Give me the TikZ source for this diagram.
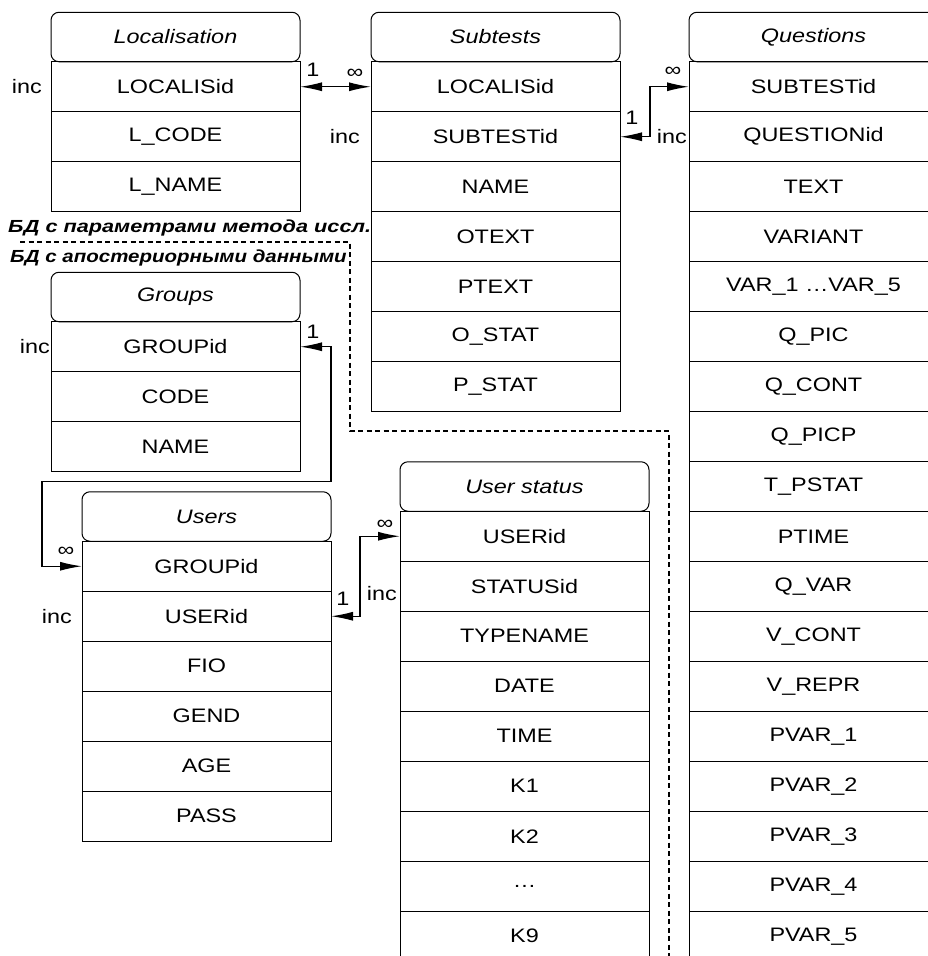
\documentclass[tikz,border=0pt]{standalone}
\usepackage{fontspec}
\setmainfont{Liberation Sans}[FakeStretch=1.2]
\newfontfamily\dbfont{Liberation Sans}[FakeStretch=1.24]
\newfontfamily\dbfontnarrow{Liberation Sans}[FakeStretch=1.17]
\usetikzlibrary{arrows.meta,positioning}

\begin{document}
\begin{tikzpicture}[x=1pt,y=-1pt,>={Latex[length=22pt,width=9pt]},font=\fontsize{19.5}{22}\selectfont]
  \tikzstyle{head}=[draw,line width=1pt,outer sep=0pt,rounded corners=8pt,font=\fontsize{19.5}{22}\selectfont\itshape,minimum width=249pt,minimum height=49.5pt,inner sep=0pt]
  \tikzstyle{field}=[draw,line width=1pt,outer sep=0pt,minimum width=249pt,minimum height=50pt,inner sep=0pt]
  \tikzstyle{lbl}=[inner sep=1pt]
  \tikzstyle{dbl}=[inner sep=0pt,anchor=base west,font=\fontsize{17.5}{20}\selectfont\bfseries\itshape]
  \tikzstyle{link}=[line width=1.3pt,<->]
  \clip (0,0) rectangle (928,956);
  % Localisation
  \node[head] (loc) at (175.5,37) {Localisation};
  \node[field,below=0pt of loc] (locid) {LOCALISid};
  \node[field,below=0pt of locid] (lcode) {L\_CODE};
  \node[field,below=0pt of lcode] (lname) {L\_NAME};
  % Subtests
  \node[head] (sub) at (495.5,37) {Subtests};
  \node[field,below=0pt of sub] (sublocid) {LOCALISid};
  \node[field,below=0pt of sublocid] (subid) {SUBTESTid};
  \node[field,below=0pt of subid] (subname) {NAME};
  \node[field,below=0pt of subname] (subotext) {OTEXT};
  \node[field,below=0pt of subotext] (subptext) {PTEXT};
  \node[field,below=0pt of subptext] (subostat) {O\_STAT};
  \node[field,below=0pt of subostat] (subpstat) {P\_STAT};
  % Questions
  \node[head] (qst) at (813.5,37) {Questions};
  \node[field,below=0pt of qst] (qsub) {SUBTESTid};
  \node[field,below=0pt of qsub] (qid) {QUESTIONid};
  \node[field,below=0pt of qid] (qtext) {TEXT};
  \node[field,below=0pt of qtext] (qvariant) {VARIANT};
  \node[field,below=0pt of qvariant] (qvars) {VAR\_1 …VAR\_5};
  \node[field,below=0pt of qvars] (qpic) {Q\_PIC};
  \node[field,below=0pt of qpic] (qcont) {Q\_CONT};
  \node[field,below=0pt of qcont] (qpicp) {Q\_PICP};
  \node[field,below=0pt of qpicp] (qpstat) {T\_PSTAT};
  \node[field,below=0pt of qpstat] (qptime) {PTIME};
  \node[field,below=0pt of qptime] (qvar) {Q\_VAR};
  \node[field,below=0pt of qvar] (qvcont) {V\_CONT};
  \node[field,below=0pt of qvcont] (qvrepr) {V\_REPR};
  \node[field,below=0pt of qvrepr] (qp1) {PVAR\_1};
  \node[field,below=0pt of qp1] (qp2) {PVAR\_2};
  \node[field,below=0pt of qp2] (qp3) {PVAR\_3};
  \node[field,below=0pt of qp3] (qp4) {PVAR\_4};
  \node[field,below=0pt of qp4] (qp5) {PVAR\_5};
  % Groups
  \node[head] (grp) at (175.5,297) {Groups};
  \node[field,below=0pt of grp] (grpid) {GROUPid};
  \node[field,below=0pt of grpid] (grpcode) {CODE};
  \node[field,below=0pt of grpcode] (grpname) {NAME};
  % Users
  \node[head] (usr) at (206.5,516.5) {Users};
  \node[field,below=0pt of usr] (usrgrp) {GROUPid};
  \node[field,below=0pt of usrgrp] (usrid) {USERid};
  \node[field,below=0pt of usrid] (usrfio) {FIO};
  \node[field,below=0pt of usrfio] (usrgend) {GEND};
  \node[field,below=0pt of usrgend] (usrage) {AGE};
  \node[field,below=0pt of usrage] (usrpass) {PASS};
  % User status
  \node[head] (st) at (524.5,486.5) {User status};
  \node[field,below=0pt of st] (stusr) {USERid};
  \node[field,below=0pt of stusr] (stid) {STATUSid};
  \node[field,below=0pt of stid] (sttype) {TYPENAME};
  \node[field,below=0pt of sttype] (stdate) {DATE};
  \node[field,below=0pt of stdate] (sttime) {TIME};
  \node[field,below=0pt of sttime] (stk1) {K1};
  \node[field,below=0pt of stk1] (stk2) {K2};
  \node[field,below=0pt of stk2] (stdots) {…};
  \node[field,below=0pt of stdots] (stk9) {K9};
  % inc
  \node[lbl,left=8pt of locid] (incloc) {inc};
  \node[lbl,left=10pt of subid] (incsub) {inc};
  \node[lbl,left=1pt of qid] (incq) {inc};
  \node[lbl,left=0pt of grpid] (incgrp) {inc};
  \node[lbl,left=9pt of usrid] (incusr) {inc};
  \node[lbl,left=2pt of stid,yshift=-7pt] (incst) {inc};
  % links
  \draw[link] (locid.east) -- (sublocid.west);
  \node[lbl] (oneloc) at ([shift={(13,-17)}]locid.east) {1};
  \node[lbl] (infsub) at ([shift={(-16,-13)}]sublocid.west) {∞};
  \draw[link] (subid.east) -- ++(30,0) |- (qsub.west);
  \node[lbl] (onesub) at ([shift={(12,-19)}]subid.east) {1};
  \node[lbl] (infq) at ([shift={(-16,-15)}]qsub.west) {∞};
  \draw[link] (grpid.east) -- ++(31,0) -- ++(0,135) -- ++(-289,0) |- (usrgrp.west);
  \node[lbl] (onegrp) at ([shift={(13,-15)}]grpid.east) {1};
  \node[lbl] (infusr) at ([shift={(-16,-14)}]usrgrp.west) {∞};
  \draw[link] (usrid.east) -- ++(29,0) |- (stusr.west);
  \node[lbl] (oneusr) at ([shift={(12,-17)}]usrid.east) {1};
  \node[lbl] (infst) at ([shift={(-15,-11)}]stusr.west) {∞};
  % database borders
  \draw[line width=1.5pt,dash pattern=on 5pt off 3.5pt] (20,242) -- (350,242) -- (350,431) -- (669,431) -- (669,970);
  \node[dbl] (dbpar) at (8,232.5) {\dbfont БД с параметрами метода иссл.};
  \node[dbl] (dbapo) at (10,262) {\dbfontnarrow БД с апостериорными данными};
\end{tikzpicture}
\end{document}
